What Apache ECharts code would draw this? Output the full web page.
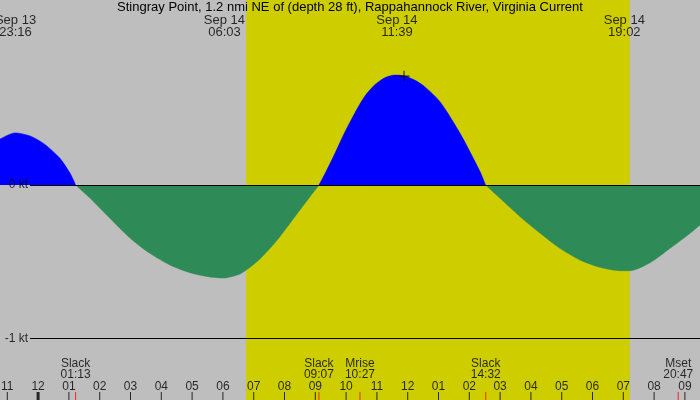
<!DOCTYPE html>
<html lang="en">
<head>
<meta charset="UTF-8">
<script src="https://cdn.jsdelivr.net/npm/echarts@6.0.0/dist/echarts.min.js"></script>
<title>Stingray Point current</title>
<style>
    html, body { margin: 0; padding: 0; background: #bebebe; }
    #tu { width: 700px; height: 400px; }
</style>
</head>
<body>
<div id="tu"></div>
<script type="text/javascript">
    // hours counted from Sep 13 00:00, speed in knots (+ flood, - ebb)
    var flood1Hours = [22.76, 23.25, 23.74, 24.22, 24.71, 25.04, 25.22];
    var flood1Knots = [0.30, 0.34, 0.32, 0.265, 0.174, 0.076, 0];
    var ebb1Hours = [25.22, 25.69, 26.33, 26.98, 27.63, 28.28, 28.93, 29.58, 30.05, 30.23, 30.56, 30.88, 31.20, 31.53, 31.85, 32.18, 32.50, 32.83, 33.12];
    var ebb1Knots = [0, -0.087, -0.217, -0.345, -0.446, -0.522, -0.572, -0.600, -0.607, -0.600, -0.58, -0.537, -0.483, -0.413, -0.337, -0.25, -0.163, -0.076, 0];
    var flood2Hours = [33.12, 33.32, 33.64, 33.96, 34.29, 34.61, 34.94, 35.26, 35.59, 35.91, 36.24, 36.56, 37.05, 37.70, 38.35, 38.53];
    var flood2Knots = [0, 0.076, 0.207, 0.345, 0.472, 0.580, 0.655, 0.700, 0.717, 0.711, 0.683, 0.640, 0.543, 0.337, 0.087, 0];
    var ebb2Hours = [38.53, 39.00, 39.65, 40.30, 40.94, 41.59, 42.24, 42.89, 43.22, 43.87, 44.52, 45.17, 45.49];
    var ebb2Knots = [0, -0.087, -0.207, -0.315, -0.413, -0.489, -0.537, -0.559, -0.559, -0.507, -0.413, -0.315, -0.261];

    // max flood / max ebb labels along the top
    var extremeHours = [23.267, 30.05, 35.65, 43.033];
    var extremeDates = ['Sep 13', 'Sep 14', 'Sep 14', 'Sep 14'];
    var extremeTimes = ['23:16', '06:03', '11:39', '19:02'];

    // slack and moon events along the bottom
    var eventHours = [25.217, 33.117, 34.45, 38.533, 44.783];
    var eventNames = ['Slack', 'Slack', 'Mrise', 'Slack', 'Mset'];
    var eventTimes = ['01:13', '09:07', '10:27', '14:32', '20:47'];

    var hourTicks = [23, 24, 25, 26, 27, 28, 29, 30, 31, 32, 33, 34, 35, 36, 37, 38, 39, 40, 41, 42, 43, 44, 45];
    var ktLevels = [0, -1];
    var sunrise = 30.75, sunset = 43.21;
    var marker = [35.88, 0.71];

    var xMin = 22.763, xMax = 45.49;
    var yMin = -1.4025, yMax = 1.2068;
    var font = 'Liberation Sans';

    function zip(a, b) {
        return a.map(function (v, i) { return [v, b[i]]; });
    }
    function areaSeries(hours, knots, color) {
        return {
            type: 'line', data: zip(hours, knots), smooth: 0.25, symbol: 'none', z: 3,
            lineStyle: {color: color, width: 0.5}, areaStyle: {color: color, opacity: 1},
            silent: true
        };
    }
    function hourLabel(h) {
        var v = h % 12;
        if (v === 0) v = 12;
        return (v < 10 ? '0' : '') + v;
    }

    var thisChart = echarts.init(document.getElementById('tu'));
    var option = {
        backgroundColor: '#bebebe',
        animation: false,
        textStyle: {fontFamily: font},
        title: {
            text: 'Stingray Point, 1.2 nmi NE of (depth 28 ft), Rappahannock River, Virginia Current',
            left: 'center', top: 1, padding: 0,
            textStyle: {fontSize: 13, fontWeight: 'normal', color: '#000', fontFamily: font}
        },
        grid: {left: 0, right: 0, top: 0, bottom: 0},
        xAxis: {type: 'value', min: xMin, max: xMax, show: false},
        yAxis: {type: 'value', min: yMin, max: yMax, show: false},
        series: [
            {
                type: 'line', data: [[xMin, 0]], symbol: 'none', z: 1, silent: true,
                markArea: {
                    silent: true, itemStyle: {color: '#cdcd00'},
                    data: [[{xAxis: sunrise}, {xAxis: sunset}]]
                }
            },
            areaSeries(flood1Hours, flood1Knots, '#0000ff'),
            areaSeries(flood2Hours, flood2Knots, '#0000ff'),
            {
                // kt reference lines, drawn under the ebb fill
                type: 'scatter', z: 3, clip: false, silent: true, symbolSize: 0,
                data: ktLevels.map(function (k) { return [xMin, k]; }),
                label: {
                    show: true, position: [28, 0], align: 'right', verticalAlign: 'middle',
                    fontSize: 12, color: '#000', fontFamily: font,
                    formatter: function (p) { return p.value[1] + ' kt'; }
                },
                markLine: {
                    silent: true, symbol: 'none', label: {show: false},
                    lineStyle: {color: '#000', width: 1, type: 'solid'},
                    data: ktLevels.map(function (k) {
                        return [{coord: [23.74, k]}, {coord: [xMax, k]}];
                    })
                }
            },
            areaSeries(ebb1Hours, ebb1Knots, '#2e8b57'),
            areaSeries(ebb2Hours, ebb2Knots, '#2e8b57'),
            {
                type: 'scatter', z: 5, clip: false, silent: true, symbolSize: 0,
                data: extremeHours.map(function (h, i) {
                    return {value: [h, yMax], name: extremeDates[i] + '\n' + extremeTimes[i]};
                }),
                label: {
                    show: true, position: 'bottom', distance: 14, lineHeight: 12,
                    fontSize: 13, color: '#000', fontFamily: font,
                    formatter: function (p) { return p.name; }
                }
            },
            {
                type: 'scatter', z: 6, clip: false, silent: true,
                symbol: 'rect', symbolSize: [1, 16], itemStyle: {color: '#ff0000'},
                data: eventHours.map(function (h, i) {
                    return {value: [h, yMin], name: eventNames[i] + '\n' + eventTimes[i]};
                }),
                label: {
                    show: true, position: 'top', distance: 12, lineHeight: 11,
                    fontSize: 12, color: '#000', fontFamily: font,
                    formatter: function (p) { return p.name; }
                }
            },
            {
                type: 'scatter', z: 5, clip: false, silent: true,
                symbol: 'rect', itemStyle: {color: '#000'},
                data: hourTicks.map(function (h) {
                    return {value: [h, yMin], symbolSize: h % 24 === 0 ? [3, 16] : [1, 16]};
                }),
                label: {
                    show: true, position: 'top', distance: -1,
                    fontSize: 12, color: '#000', fontFamily: font,
                    formatter: function (p) { return hourLabel(p.value[0]); }
                }
            },
            {
                type: 'scatter', z: 6, silent: true, clip: false,
                symbol: 'path://M0,4.5L10,4.5L10,5.5L0,5.5ZM4.5,0L5.5,0L5.5,10L4.5,10Z', symbolSize: 11,
                itemStyle: {color: '#000'},
                data: [marker]
            }
        ]
    };
    thisChart.setOption(option);
</script>
</body>
</html>
